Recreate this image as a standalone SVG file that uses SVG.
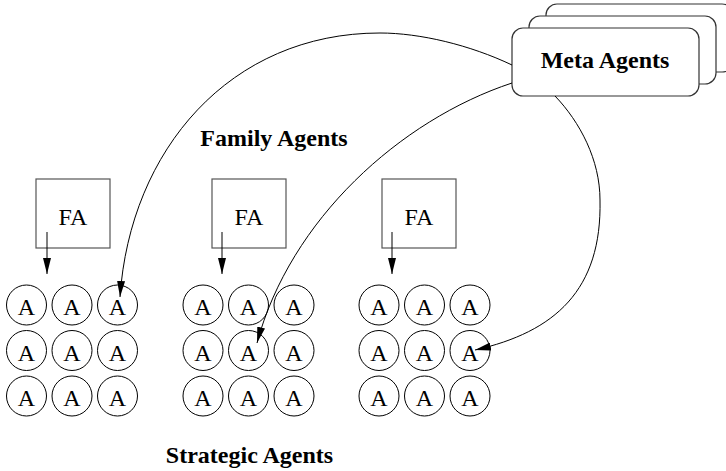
<svg xmlns="http://www.w3.org/2000/svg" width="726" height="471" viewBox="0 0 726 471">
<style>
.meta{fill:#fff;stroke:#333;stroke-width:1.2}
.fa{fill:#fff;stroke:#555;stroke-width:1.2}
.ag{fill:#fff;stroke:#000;stroke-width:1}
.t{font-family:"Liberation Serif",serif;font-size:24px;fill:#000;text-anchor:middle}
.b{font-family:"Liberation Serif",serif;font-size:24px;font-weight:bold;fill:#000;text-anchor:middle}
.c{fill:none;stroke:#000;stroke-width:1}
</style>
<defs>
<marker id="ah" markerWidth="16" markerHeight="8" refX="16" refY="4" orient="auto" markerUnits="userSpaceOnUse"><path d="M0,0 L16,4 L0,8 z" fill="#000"/></marker>
<g id="grid">
<circle class="ag" cx="0" cy="0" r="20"/><text class="t" x="0" y="10">A</text>
<circle class="ag" cx="45.5" cy="0" r="20"/><text class="t" x="45.5" y="10">A</text>
<circle class="ag" cx="91" cy="0" r="20"/><text class="t" x="91" y="10">A</text>
<circle class="ag" cx="0" cy="45.5" r="20"/><text class="t" x="0" y="55.5">A</text>
<circle class="ag" cx="45.5" cy="45.5" r="20"/><text class="t" x="45.5" y="55.5">A</text>
<circle class="ag" cx="91" cy="45.5" r="20"/><text class="t" x="91" y="55.5">A</text>
<circle class="ag" cx="0" cy="91" r="20"/><text class="t" x="0" y="101">A</text>
<circle class="ag" cx="45.5" cy="91" r="20"/><text class="t" x="45.5" y="101">A</text>
<circle class="ag" cx="91" cy="91" r="20"/><text class="t" x="91" y="101">A</text>
</g>
</defs>
<g id="meta-agents">
<rect class="meta" x="546" y="4" width="187" height="68" rx="11"/>
<rect class="meta" x="529" y="16" width="187" height="68" rx="11"/>
<rect class="meta" x="512" y="28" width="187" height="68" rx="11"/>
<text class="b" x="605" y="68">Meta Agents</text>
</g>
<g id="family-label"><text class="b" x="274" y="146">Family Agents</text></g>
<g id="strategic-label"><text class="b" x="249.5" y="463">Strategic Agents</text></g>
<g id="fa1"><rect class="fa" x="36" y="179" width="74" height="69"/><text class="t" x="73" y="225">FA</text></g>
<g id="fa2"><rect class="fa" x="212" y="179" width="74" height="69"/><text class="t" x="249" y="225">FA</text></g>
<g id="fa3"><rect class="fa" x="382" y="179" width="74" height="69"/><text class="t" x="419" y="225">FA</text></g>
<g id="agents1"><use href="#grid" x="26.5" y="305"/></g>
<g id="agents2"><use href="#grid" x="203" y="305"/></g>
<g id="agents3"><use href="#grid" x="379" y="305"/></g>
<g id="connectors">
<path class="c" d="M47,232 L47,274" marker-end="url(#ah)"/>
<path class="c" d="M222,232 L222,274" marker-end="url(#ah)"/>
<path class="c" d="M392,232 L392,274" marker-end="url(#ah)"/>
<path class="c" d="M512,65 C470,45 420,33 380,33 C230,33 130,150 120,297" marker-end="url(#ah)"/>
<path class="c" d="M512,83 C400,120 290,220 257,343" marker-end="url(#ah)"/>
<path class="c" d="M555,96 C580,122 600,160 600,200 C602,290 555,332 475,350" marker-end="url(#ah)"/>
</g>
</svg>
